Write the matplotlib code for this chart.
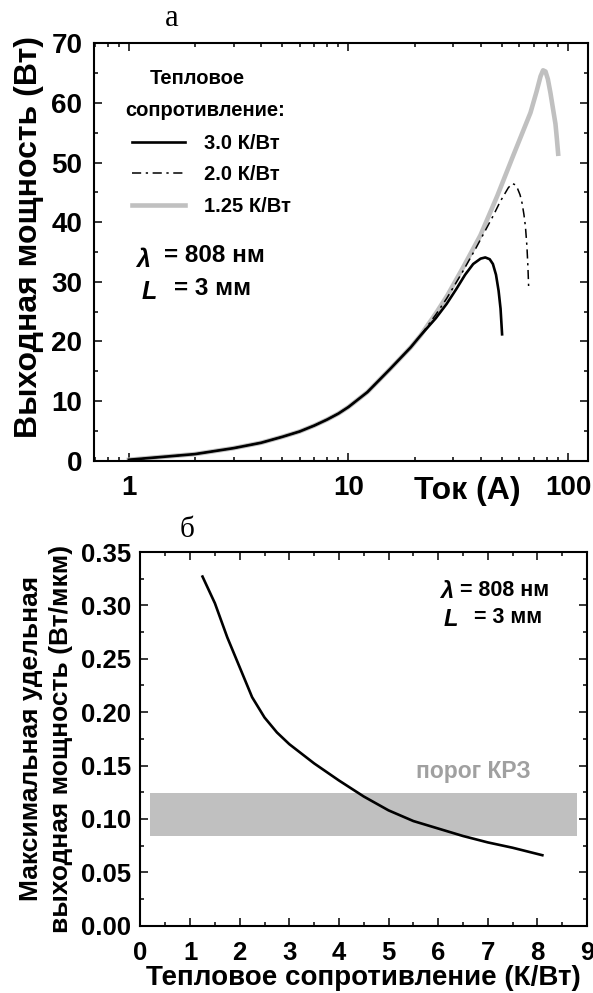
import numpy as np
import matplotlib
matplotlib.use("Agg")
import matplotlib.pyplot as plt
from matplotlib.lines import Line2D
from matplotlib.ticker import MultipleLocator, LogLocator, FuncFormatter, NullFormatter

# ── Data ──────────────────────────────────────────────────────────────────────
# panel a: output power vs current, common low-current part
base_x = [1.0, 1.34, 2.0, 3.0, 4.0, 5.0, 6.0, 7.0, 8.0, 9.0, 10.0, 12.2, 15.5, 19.2]
base_y = [0.15, 0.55, 1.1, 2.1, 3.0, 4.0, 4.9, 5.9, 6.9, 7.9, 9.0, 11.5, 15.4, 19.0]

r30_x = [21.3, 25, 28, 31, 34, 37, 40, 42, 44, 45.5, 47, 48.3, 49.3, 50.1]
r30_y = [21.0, 23.9, 26.3, 28.8, 31.2, 33.0, 33.9, 34.1, 33.8, 33.0, 31.2, 28.5, 25.5, 21.2]

r20_x = [21.3, 25, 28, 33, 38, 42, 45.8, 49, 51, 53.5, 55.7, 57.5, 59, 60.5, 61.8, 63, 64, 65, 65.7, 66.2]
r20_y = [21.0, 24.5, 27.2, 31.6, 35.6, 38.6, 41.2, 43.4, 44.5, 45.8, 46.5, 46.3, 45.6, 44.6, 43.2, 41.3, 39.3, 36.0, 32.5, 29.1]

r125_x = [21.3, 25, 28.2, 33.6, 39.9, 47.6, 56.6, 67.5, 72, 75, 77, 79, 81, 83.2, 85.5, 87.7, 89, 90.2]
r125_y = [21.0, 24.7, 27.7, 32.7, 37.8, 44.4, 51.4, 58.4, 62.0, 64.5, 65.5, 65.3, 64.0, 61.7, 59.0, 56.5, 54.0, 51.5]

legend_labels = ["3.0 К/Вт", "2.0 К/Вт", "1.25 К/Вт"]

# panel б: max specific output power vs thermal resistance
rth = [1.25, 1.5, 1.75, 2.0, 2.25, 2.5, 2.75, 3.0, 3.5, 4.0, 4.5, 5.0, 5.5, 6.0, 6.5, 7.0, 7.5, 8.1]
pmax = [0.327, 0.302, 0.270, 0.242, 0.214, 0.195, 0.181, 0.170, 0.152, 0.136, 0.121,
        0.108, 0.098, 0.091, 0.084, 0.078, 0.073, 0.066]
cod_x = (0.2, 8.8)        # КРЗ threshold band
cod_y = (0.084, 0.124)

ARIAL = "Liberation Sans"
SERIF = "Liberation Serif"
GRAY = "#c0c0c0"
DASHDOT = (0, (6, 3, 1.5, 3))

fig = plt.figure(figsize=(5.93, 9.93), dpi=100)


def style_axes(ax, labelsize):
    for s in ax.spines.values():
        s.set_linewidth(1.5)
    ax.tick_params(which="both", direction="in", top=True, right=True, width=1.1)
    ax.tick_params(which="major", length=5.5, labelsize=labelsize)
    ax.tick_params(which="minor", length=3)
    for lbl in ax.get_xticklabels() + ax.get_yticklabels():
        lbl.set_fontfamily(ARIAL)
        lbl.set_fontweight("bold")


def btext(ax, x, y, s, size, **kw):
    kw.setdefault("va", "center")
    return ax.text(x, y, s, fontfamily=ARIAL, fontweight="bold", fontsize=size, **kw)


# ── Panel a ───────────────────────────────────────────────────────────────────
ax1 = fig.add_axes([0.1577, 0.5361, 0.8334, 0.4201])
ax1.plot(base_x + r125_x, base_y + r125_y, color=GRAY, lw=3.3, zorder=2)
ax1.plot(base_x + r20_x, base_y + r20_y, color="black", lw=1.1, ls=DASHDOT, zorder=3)
ax1.plot(base_x + r30_x, base_y + r30_y, color="black", lw=1.9, zorder=4)
ax1.set_xscale("log")
ax1.set_xlim(0.69, 123)
ax1.set_ylim(0, 70)
ax1.xaxis.set_major_locator(LogLocator(base=10))
ax1.xaxis.set_minor_locator(LogLocator(base=10, subs=np.arange(2, 10)))
ax1.xaxis.set_major_formatter(FuncFormatter(lambda v, p: f"{v:g}"))
ax1.xaxis.set_minor_formatter(NullFormatter())
ax1.yaxis.set_major_locator(MultipleLocator(10))
ax1.yaxis.set_minor_locator(MultipleLocator(5))
ax1.tick_params(axis="x", pad=10)
ax1.tick_params(axis="y", pad=8)
style_axes(ax1, 20)

ax1.set_ylabel("Выходная мощность (Вт)", fontfamily=ARIAL, fontweight="bold",
               fontsize=23)
ax1.yaxis.set_label_coords(-0.10, 0.535)
btext(ax1, 0.757, -0.072, "Ток (A)", 23, ha="center", transform=ax1.transAxes)

btext(ax1, 0.114, 0.917, "Тепловое", 14.5, transform=ax1.transAxes)
btext(ax1, 0.064, 0.840, "сопротивление:", 14.5, transform=ax1.transAxes)
handles = [Line2D([], [], color="black", lw=1.9),
           Line2D([], [], color="black", lw=1.1, ls=DASHDOT),
           Line2D([], [], color=GRAY, lw=3.3)]
ax1.legend(handles, legend_labels, loc="upper left", bbox_to_anchor=(0.077, 0.784),
           frameon=False, borderpad=0, borderaxespad=0, handlelength=2.65,
           handletextpad=0.95, labelspacing=0.62,
           prop={"family": ARIAL, "weight": "bold", "size": 14.5})

btext(ax1, 0.086, 0.482, "λ", 18, fontstyle="italic", transform=ax1.transAxes)
btext(ax1, 0.143, 0.492, "= 808 нм", 17.5, transform=ax1.transAxes)
btext(ax1, 0.098, 0.405, "L", 18, fontstyle="italic", transform=ax1.transAxes)
btext(ax1, 0.163, 0.412, "= 3 мм", 17.5, transform=ax1.transAxes)
fig.text(172 / 593, 1 - 19 / 993, "а", fontfamily=SERIF, fontsize=22,
         ha="center", va="center")

# ── Panel б ───────────────────────────────────────────────────────────────────
ax2 = fig.add_axes([0.2369, 0.0678, 0.7530, 0.3763])
ax2.fill_between(cod_x, cod_y[0], cod_y[1], color=GRAY, lw=0, zorder=1)
ax2.plot(rth, pmax, color="black", lw=1.9, zorder=3)
ax2.set_xlim(0, 9)
ax2.set_ylim(0, 0.35)
ax2.xaxis.set_major_locator(MultipleLocator(1))
ax2.xaxis.set_minor_locator(MultipleLocator(0.5))
ax2.yaxis.set_major_locator(MultipleLocator(0.05))
ax2.yaxis.set_minor_locator(MultipleLocator(0.025))
ax2.yaxis.set_major_formatter(FuncFormatter(lambda v, p: f"{v:.2f}"))
ax2.tick_params(axis="x", pad=11)
ax2.tick_params(axis="y", pad=7)
style_axes(ax2, 18.5)

ax2.set_xlabel("Тепловое сопротивление (К/Вт)", fontfamily=ARIAL, fontweight="bold",
               fontsize=20, labelpad=0)
ax2.set_ylabel("Максимальная удельная\nвыходная мощность (Вт/мкм)", fontfamily=ARIAL,
               fontweight="bold", fontsize=19, linespacing=1.3)
ax2.yaxis.set_label_coords(-0.152, 0.5)

btext(ax2, 6.7, 0.144, "порог КРЗ", 16.5, color="#a0a0a0", ha="center")
btext(ax2, 6.03, 0.313, "λ", 17, fontstyle="italic")
btext(ax2, 6.45, 0.314, "= 808 нм", 15.5)
btext(ax2, 6.1, 0.287, "L", 17, fontstyle="italic")
btext(ax2, 6.73, 0.289, "= 3 мм", 15.5)
fig.text(187 / 593, 1 - 530 / 993, "б", fontfamily=SERIF, fontsize=21,
         ha="center", va="center")

fig.savefig("out.png", dpi=100)
